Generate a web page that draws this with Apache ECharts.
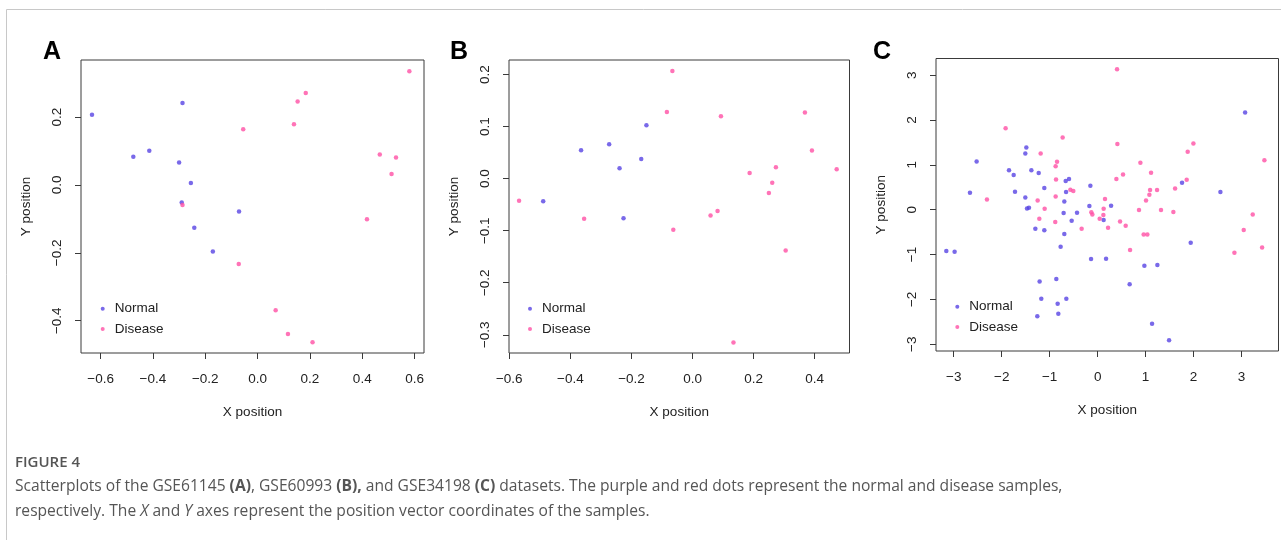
<!DOCTYPE html>
<html><head><meta charset="utf-8">
<script src="https://cdn.jsdelivr.net/npm/echarts@6/dist/echarts.min.js"></script>
<style>html,body{margin:0;padding:0;background:#fff}#c{width:1281px;height:540px}</style>
</head><body><div id="c"></div>
<script>
const panelLabels = ['A', 'B', 'C'];
const seriesNames = ['Normal', 'Disease'];

const aNormal = [[-0.633,0.207],[-0.475,0.083],[-0.414,0.101],[-0.287,0.241],[-0.300,0.066],[-0.255,0.006],[-0.290,-0.052],[-0.242,-0.126],[-0.071,-0.078],[-0.171,-0.196]];
const aDisease = [[-0.287,-0.059],[-0.055,0.164],[0.139,0.179],[0.153,0.246],[0.184,0.271],[0.580,0.335],[0.467,0.090],[0.529,0.081],[0.512,0.032],[0.418,-0.101],[-0.072,-0.233],[0.069,-0.369],[0.116,-0.439],[0.210,-0.463]];

const bNormal = [[-0.489,-0.0435],[-0.365,0.0546],[-0.273,0.066],[-0.239,0.020],[-0.168,0.0379],[-0.151,0.1027],[-0.226,-0.0762]];
const bDisease = [[-0.568,-0.0423],[-0.355,-0.0769],[-0.066,0.207],[-0.084,0.128],[0.093,0.120],[-0.063,-0.098],[0.059,-0.071],[0.082,-0.062],[0.187,0.011],[0.273,0.022],[0.261,-0.0077],[0.250,-0.0275],[0.368,0.127],[0.391,0.054],[0.472,0.018],[0.305,-0.138],[0.134,-0.315]];

const cNormal = [[3.074,2.168],[-1.487,1.388],[-1.508,1.254],[-2.523,1.076],[-1.848,0.882],[-1.751,0.771],[-1.382,0.882],[-1.229,0.816],[-0.666,0.637],[-0.597,0.682],[-0.152,0.533],[-1.112,0.481],[-0.659,0.392],[-1.723,0.399],[-2.662,0.377],[-1.508,0.274],[-1.473,0.029],[-1.432,0.042],[-0.695,0.185],[-0.709,-0.076],[-0.430,-0.069],[-0.173,0.080],[0.280,0.087],[0.125,-0.232],[-0.542,-0.247],[-1.299,-0.426],[-1.112,-0.461],[-0.695,-0.544],[1.759,0.600],[2.559,0.392],[1.940,-0.737],[-3.155,-0.922],[-2.982,-0.938],[-0.772,-0.827],[-0.138,-1.101],[0.175,-1.094],[0.974,-1.250],[1.245,-1.234],[-1.210,-1.600],[-0.862,-1.546],[0.667,-1.665],[-1.175,-1.985],[-0.653,-1.985],[-0.834,-2.097],[-1.258,-2.378],[-0.820,-2.320],[1.134,-2.542],[1.489,-2.912]];
const cDisease = [[0.404,3.133],[-1.919,1.818],[-0.730,1.611],[0.411,1.462],[-1.188,1.254],[1.996,1.477],[1.877,1.290],[3.476,1.100],[-0.847,1.067],[-0.876,0.971],[0.891,1.045],[0.529,0.786],[0.390,0.682],[1.113,0.822],[1.856,0.666],[1.614,0.474],[-0.868,0.675],[-0.569,0.443],[-0.507,0.414],[1.092,0.437],[1.238,0.437],[1.078,0.332],[-0.876,0.296],[-2.308,0.229],[-1.251,0.207],[1.008,0.207],[0.153,0.236],[-1.105,0.020],[0.125,0.020],[0.862,-0.009],[1.321,-0.009],[1.578,-0.053],[-0.132,-0.060],[-0.111,-0.105],[0.119,-0.120],[0.042,-0.203],[-1.216,-0.203],[-0.884,-0.276],[0.467,-0.261],[0.584,-0.359],[0.217,-0.403],[-0.334,-0.426],[3.233,-0.105],[3.045,-0.455],[0.959,-0.551],[1.036,-0.551],[0.676,-0.900],[2.851,-0.960],[3.428,-0.841]];

const aXTicks = [-0.6,-0.4,-0.2,0,0.2,0.4,0.6];
const aYTicks = [-0.4,-0.2,0,0.2];
const bXTicks = [-0.6,-0.4,-0.2,0,0.2,0.4];
const bYTicks = [-0.3,-0.2,-0.1,0,0.1,0.2];
const cXTicks = [-3,-2,-1,0,1,2,3];
const cYTicks = [-3,-2,-1,0,1,2,3];

const xTitle = 'X position';
const yTitle = 'Y position';
const figTitle = 'FIGURE 4';
const captionLine1 = 'Scatterplots of the GSE61145 {b|(A)}, GSE60993 {b|(B),} and GSE34198 {b|(C)} datasets. The purple and red dots represent the normal and disease samples,';
const captionLine2 = 'respectively. The {i|X} and {i|Y} axes represent the position vector coordinates of the samples.';

const panels = [
  {normal:aNormal, disease:aDisease, xt:aXTicks, yt:aYTicks, dec:1, grid:{left:81,top:60,width:343,height:293}, xr:[-0.675,0.636], yr:[-0.495,0.368], legend:[100.7,298.7], label:[52,52.5]},
  {normal:bNormal, disease:bDisease, xt:bXTicks, yt:bYTicks, dec:1, grid:{left:509,top:60,width:340.5,height:293}, xr:[-0.601,0.514], yr:[-0.335,0.228], legend:[528,298.7], label:[459,52.5]},
  {normal:cNormal, disease:cDisease, xt:cXTicks, yt:cYTicks, dec:0, grid:{left:936,top:58.5,width:342.5,height:292.5}, xr:[-3.37,3.77], yr:[-3.151,3.371], legend:[955.3,296.7], label:[882,52.5]}
];

const FONT = 'Liberation Sans, Arial, sans-serif';
const BLUE = '#5744e4';
const PINK = '#ff50a5';
function fmt(v, dec){ return (dec ? v.toFixed(dec) : String(Math.round(v))).replace('-', '\u2212'); }

const grids = [], xAxes = [], yAxes = [], series = [], legends = [], graphics = [];
panels.forEach((p, i) => {
  grids.push(Object.assign({show:true, borderColor:'#3a3a3a', borderWidth:1, backgroundColor:'transparent'}, p.grid));
  const common = {type:'value', gridIndex:i, splitLine:{show:false},
    axisLine:{show:false, onZero:false},
    nameLocation:'middle',
    nameTextStyle:{fontSize:13.5, fontFamily:FONT, color:'#222'}};
  xAxes.push(Object.assign({}, common, {min:p.xr[0], max:p.xr[1], name:xTitle, nameGap:52,
    axisTick:{show:true, length:6, lineStyle:{color:'#3a3a3a'}, customValues:p.xt},
    axisLabel:{customValues:p.xt, margin:19, fontSize:13.5, fontFamily:FONT, color:'#222', formatter:v=>fmt(v,p.dec)}}));
  yAxes.push(Object.assign({}, common, {min:p.yr[0], max:p.yr[1], name:yTitle, nameGap:48,
    axisTick:{show:true, length:6, lineStyle:{color:'#3a3a3a'}, customValues:p.yt},
    axisLabel:{customValues:p.yt, rotate:90, margin:17, fontSize:13.5, fontFamily:FONT, color:'#222', formatter:v=>fmt(v,p.dec)}}));
  series.push({type:'scatter', name:seriesNames[0], xAxisIndex:i, yAxisIndex:i, data:p.normal, symbolSize:4.5, itemStyle:{color:BLUE}, silent:true, z:2});
  series.push({type:'scatter', name:seriesNames[1], xAxisIndex:i, yAxisIndex:i, data:p.disease, symbolSize:4.5, itemStyle:{color:PINK}, silent:true, z:3});
  legends.push({orient:'vertical', left:p.legend[0], top:p.legend[1], padding:0, itemWidth:4, itemHeight:4, itemGap:0.3,
    icon:'circle', selectedMode:false, data:seriesNames,
    textStyle:{fontSize:13.5, fontFamily:FONT, color:'#222', lineHeight:20, padding:[0,0,0,5]}});
  graphics.push({type:'text', style:{x:p.label[0], y:p.label[1], text:panelLabels[i], fontSize:25, fontWeight:'bold', fontFamily:FONT, fill:'#000', align:'center', verticalAlign:'middle'}});
});

graphics.push({type:'line', shape:{x1:6.5,y1:9.5,x2:1281,y2:9.5}, style:{stroke:'#c8c8c8', lineWidth:1}});
graphics.push({type:'line', shape:{x1:6.5,y1:9.5,x2:6.5,y2:540}, style:{stroke:'#c8c8c8', lineWidth:1}});
graphics.push({type:'text', style:{x:15, y:463, text:figTitle, fontSize:15, fontWeight:600, fontFamily:'Open Sans', fill:'#555', verticalAlign:'middle'}});
graphics.push({type:'text', style:{x:15, y:487, text:captionLine1, fontSize:15.6, fontFamily:'Open Sans', fill:'#555', verticalAlign:'middle',
  rich:{b:{fontWeight:'bold', fontSize:15.6, fontFamily:'Open Sans', fill:'#555'}}}});
graphics.push({type:'text', style:{x:15, y:512, text:captionLine2, fontSize:15.6, fontFamily:'Open Sans', fill:'#555', verticalAlign:'middle',
  rich:{i:{fontStyle:'italic', fontSize:15.6, fontFamily:'Open Sans', fill:'#555'}}}});

const chart = echarts.init(document.getElementById('c'), null, {renderer:'canvas'});
chart.setOption({animation:false, backgroundColor:'#fff', grid:grids, xAxis:xAxes, yAxis:yAxes, series, legend:legends, graphic:graphics});
</script></body></html>
